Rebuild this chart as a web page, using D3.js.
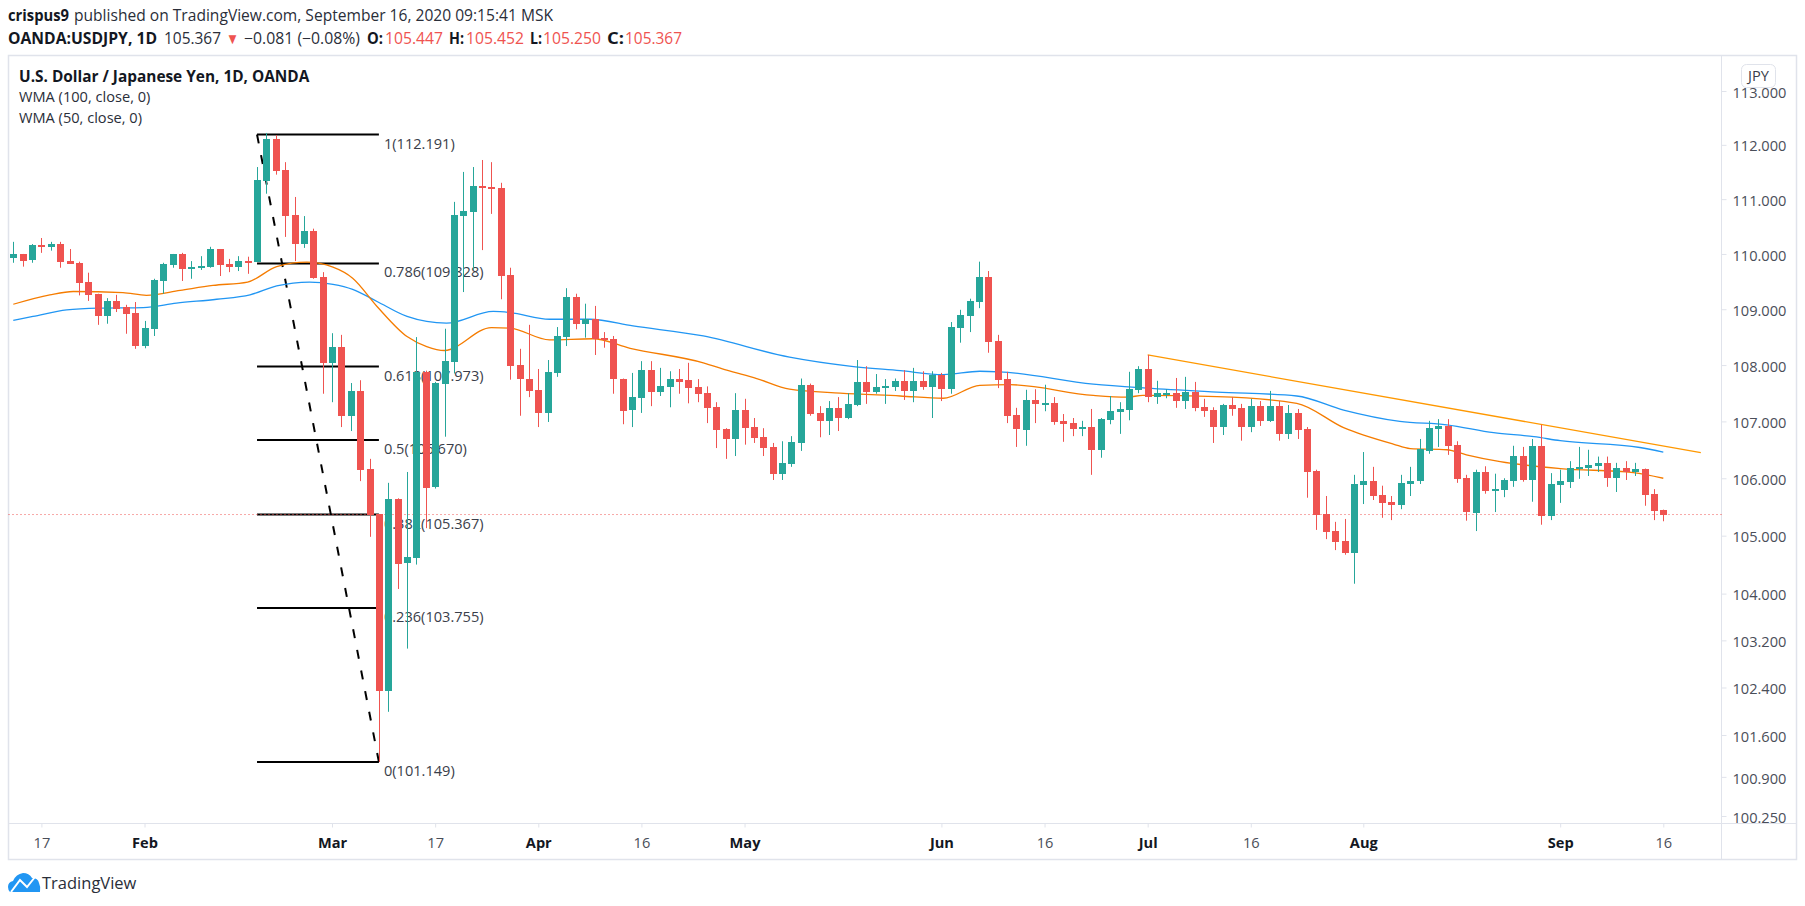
<!DOCTYPE html>
<html>
<head>
<meta charset="utf-8">
<script src="https://d3js.org/d3.v7.min.js"></script>
<style>
    html, body { margin: 0; padding: 0; background: #fff; }
    text { font-family: "Open Sans", sans-serif; }
</style>
</head>
<body>
<svg id="chart" width="1805" height="906"></svg>
<script>
// daily candles
const opens = [
    109.93,110.00,109.88,110.16,110.13,110.18,109.87,109.84,109.49,109.28,
    108.88,109.15,109.04,108.93,108.34,108.64,109.51,109.80,110.00,109.73,
    109.75,109.76,110.09,109.82,109.76,109.87,109.86,111.33,112.11,111.54,
    110.71,110.18,110.42,109.58,108.04,108.32,107.10,107.54,106.16,105.37,
    102.34,105.64,104.52,104.62,107.88,105.84,107.66,108.06,110.69,110.77,
    111.24,111.22,111.20,109.62,108.00,107.76,107.55,107.15,107.86,108.50,
    109.22,108.73,108.82,108.49,108.47,107.76,107.20,107.41,107.91,107.52,
    107.61,107.76,107.74,107.61,107.50,107.25,106.87,106.69,107.20,106.90,
    106.73,106.55,106.08,106.25,106.62,107.64,107.15,107.01,107.24,107.06,
    107.29,107.70,107.52,107.59,107.61,107.72,107.54,107.72,107.61,107.82,
    107.57,108.66,108.88,109.13,109.58,108.43,107.75,107.11,106.85,107.38,
    107.31,107.33,107.01,106.97,106.87,106.90,106.50,107.02,107.17,107.20,
    107.56,107.93,107.43,107.49,107.50,107.36,107.52,107.25,107.20,106.90,
    107.29,107.24,106.90,107.27,107.01,107.27,106.78,107.15,106.87,106.13,
    105.38,105.08,104.91,104.70,105.88,105.95,105.71,105.59,105.53,105.90,
    105.94,106.48,106.87,106.92,106.58,106.00,105.40,106.11,105.78,105.80,
    105.95,106.39,105.97,106.57,105.34,105.88,105.94,106.16,106.18,106.22,
    106.27,106.00,106.18,106.11,106.16,105.73,105.447];
const closes = [
    110.00,109.88,110.16,110.13,110.18,109.86,109.82,109.48,109.26,108.88,
    109.15,109.00,108.91,108.34,108.66,109.53,109.82,110.00,109.73,109.76,
    109.78,110.09,109.80,109.76,109.87,109.86,111.35,112.11,111.52,110.69,
    110.18,110.42,109.57,108.04,108.32,107.10,107.54,106.15,105.35,102.34,
    105.64,104.52,104.63,107.88,105.84,107.68,108.07,110.71,110.78,111.24,
    111.20,111.19,109.60,107.98,107.75,107.54,107.15,107.88,108.52,109.22,
    108.73,108.82,108.46,108.45,107.75,107.20,107.43,107.91,107.52,107.62,
    107.76,107.71,107.59,107.49,107.24,106.85,106.69,107.20,106.88,106.71,
    106.53,106.08,106.27,106.64,107.64,107.13,107.01,107.24,107.06,107.31,
    107.70,107.52,107.61,107.62,107.71,107.54,107.72,107.61,107.82,107.57,
    108.68,108.90,109.15,109.58,108.41,107.73,107.10,106.86,107.38,107.31,
    107.33,106.99,106.95,106.87,106.90,106.50,107.04,107.18,107.22,107.57,
    107.93,107.43,107.50,107.50,107.36,107.52,107.24,107.18,106.90,107.29,
    107.22,106.90,107.27,107.01,107.27,106.78,107.15,106.85,106.11,105.36,
    105.06,104.89,104.70,105.90,105.95,105.69,105.57,105.53,105.92,105.95,
    106.51,106.88,106.92,106.57,105.99,105.40,106.11,105.78,105.81,105.97,
    106.39,105.97,106.57,105.34,105.90,105.95,106.18,106.20,106.23,106.27,
    106.00,106.18,106.11,106.16,105.71,105.43,105.367];
const highs = [
    110.22,110.00,110.18,110.29,110.22,110.22,110.09,109.86,109.66,109.28,
    109.20,109.26,109.08,109.13,108.79,109.55,109.84,110.00,110.02,109.87,
    109.96,110.13,110.09,109.91,109.96,109.95,111.59,112.22,112.18,111.68,
    111.04,110.69,110.46,109.67,108.57,108.54,107.68,107.73,106.34,105.37,
    105.92,105.65,106.11,108.50,107.90,107.70,108.65,110.95,111.50,111.59,
    111.72,111.68,111.30,109.75,108.29,108.72,107.93,108.09,108.68,109.38,
    109.28,109.10,109.06,108.59,108.52,107.76,107.86,108.07,108.07,107.95,
    107.89,107.93,108.04,107.75,107.62,107.34,106.88,107.50,107.40,107.06,
    106.88,106.62,106.65,106.74,107.76,107.67,107.27,107.36,107.43,107.50,
    108.09,107.98,107.84,107.75,107.76,107.91,107.95,107.89,107.89,107.86,
    108.77,108.99,109.19,109.86,109.69,108.54,107.88,107.24,107.56,107.57,
    107.65,107.43,107.13,107.06,107.01,107.22,107.06,107.45,107.34,107.88,
    107.98,108.18,107.72,107.57,107.77,107.79,107.70,107.40,107.25,107.31,
    107.43,107.31,107.40,107.36,107.54,107.36,107.29,107.22,106.90,106.15,
    105.69,105.24,105.29,106.06,106.46,106.20,105.87,105.69,106.06,106.20,
    106.69,107.01,107.04,107.04,106.65,106.06,106.15,106.21,106.08,106.00,
    106.57,106.55,106.69,106.94,106.09,106.15,106.30,106.55,106.50,106.38,
    106.38,106.27,106.30,106.27,106.17,105.81,105.452];
const lows = [
    109.84,109.77,109.84,110.02,110.06,109.75,109.82,109.25,109.15,108.72,
    108.74,108.95,108.56,108.29,108.30,108.52,109.28,109.75,109.51,109.55,
    109.71,109.75,109.60,109.67,109.69,109.64,109.86,111.10,111.45,110.31,
    109.87,110.11,109.55,107.49,107.34,106.90,106.83,105.95,104.98,101.15,
    101.99,104.08,103.06,104.50,105.13,105.82,106.73,107.85,109.31,109.71,
    110.07,110.73,109.18,107.74,107.10,107.43,106.90,106.99,107.79,108.34,
    108.64,108.49,108.18,108.31,107.49,106.95,106.90,107.15,107.27,107.45,
    107.25,107.49,107.32,107.34,106.97,106.53,106.34,106.39,106.59,106.62,
    106.39,105.97,105.97,106.20,106.48,107.10,106.72,106.76,106.83,107.04,
    107.27,107.31,107.49,107.31,107.54,107.38,107.34,107.56,107.06,107.36,
    107.49,108.40,108.59,109.02,108.22,107.59,106.97,106.55,106.57,106.97,
    107.18,106.94,106.64,106.74,106.74,106.06,106.36,106.95,106.78,107.02,
    107.50,107.34,107.31,107.41,107.24,107.22,107.18,107.08,106.62,106.76,
    107.10,106.66,106.81,106.92,106.99,106.66,106.69,106.69,105.66,105.10,
    104.94,104.75,104.67,104.17,105.55,105.62,105.31,105.27,105.46,105.69,
    105.90,106.43,106.55,106.41,105.92,105.26,105.08,105.73,105.41,105.67,
    105.85,105.94,105.59,105.19,105.27,105.57,105.83,105.99,106.04,106.11,
    105.85,105.76,105.97,106.04,105.52,105.27,105.250];

// WMA lines, read at the bars where they bend
const wma100Bars = [0,2.1,5.7,9.25,13.85,17.4,21.7,25.25,28.1,31.6,34.1,36.2,38.8,42,44.1,46.2,51.2,53,57.2,61.5,66.1,73.6,82.8,89.2,94.6,99.2,103.1,105.2,115.2,120.9,128.4,136.9,141.9,147.9,152.9,157.9,162.2,165,173.5,176];
const wma100Vals = [108.80,108.87,108.99,109.02,109.03,109.11,109.18,109.26,109.42,109.49,109.45,109.36,109.14,108.87,108.78,108.75,108.96,108.94,108.82,108.82,108.70,108.52,108.14,107.98,107.90,107.83,107.89,107.88,107.66,107.59,107.52,107.45,107.20,107.00,106.94,106.80,106.73,106.66,106.54,106.46];
const wma50Bars = [0,3.9,6.4,11.7,14.2,17.8,21.3,25,28.1,31.3,34.1,36.2,38.8,42,44.1,46,51,53,57.2,61.8,65.8,73.6,76.1,79.3,82.8,88.2,94.6,99.2,103.1,106.3,115.2,118.8,120.5,128.4,136.9,141.9,147.2,149,152.9,155,158.6,165,172.8,176];
const wma50Vals = [109.09,109.26,109.32,109.30,109.25,109.34,109.43,109.49,109.77,109.85,109.76,109.56,109.05,108.51,108.33,108.26,108.67,108.66,108.45,108.47,108.30,108.04,107.91,107.76,107.57,107.50,107.45,107.41,107.64,107.65,107.46,107.43,107.46,107.44,107.32,106.89,106.60,106.52,106.50,106.41,106.29,106.17,106.10,106.00];

// trend line and fib retracement
const trendBars = [121, 180];
const trendVals = [108.18, 106.45];
const fibRatios = ["1", "0.786", "0.618", "0.5", "0.382", "0.236", "0"];
const fibPrices = [112.191, 109.828, 107.973, 106.670, 105.367, 103.755, 101.149];
const fibBars = [26, 39];

const priceTicks = [113, 112, 111, 110, 109, 108, 107, 106, 105, 104, 103.2, 102.4, 101.6, 100.9, 100.25];
const dateTickBars = [3, 14, 34, 45, 56, 67, 78, 99, 110, 121, 132, 144, 165, 176];
const dateTickLabels = ["17", "Feb", "Mar", "17", "Apr", "16", "May", "Jun", "16", "Jul", "16", "Aug", "Sep", "16"];
const lastPrice = 105.367;

const GREEN = "#26a69a", RED = "#ef5350", BLUE = "#2196f3", ORANGE = "#f57c00";
const FRAME = "#e0e3eb", TEXT = "#4a4e59", DARK = "#131722";

const x = d3.scaleLinear().domain([3, 176]).range([41.4, 1663.3]);
const y = d3.scaleLog().domain([113, 100.25]).range([91, 816]);

const svg = d3.select("#chart");
const bars = d3.range(opens.length);

/* Frame */
const frameL = 8.5, frameR = 1796.5, frameT = 55.5, frameB = 859.5, axisX = 1721.5, axisY = 823.5;
svg.append("rect").attr("x", frameL).attr("y", frameT).attr("width", frameR - frameL).attr("height", frameB - frameT)
    .attr("fill", "none").attr("stroke", FRAME).attr("stroke-width", 1.5);
svg.append("line").attr("x1", axisX).attr("x2", axisX).attr("y1", frameT).attr("y2", frameB).attr("stroke", FRAME);
svg.append("line").attr("x1", frameL).attr("x2", frameR).attr("y1", axisY).attr("y2", axisY).attr("stroke", FRAME);

/* Header: each piece is pinned to its own start and width */
const head = svg.append("g").attr("font-size", 15.5);
const headerParts = [
    ["crispus9", 8, 61, 21, 700, DARK],
    ["published on TradingView.com, September 16, 2020 09:15:41 MSK", 74, 479, 21, 400, "#2a2e39"],
    ["OANDA:USDJPY, 1D", 8, 149, 44, 700, DARK],
    ["105.367", 164, 57, 44, 400, "#2a2e39"],
    ["▼", 226, 13, 44, 400, RED],
    ["−0.081 (−0.08%)", 244, 116, 44, 400, "#2a2e39"],
    ["O:", 367, 16, 44, 700, DARK],
    ["105.447", 385, 58, 44, 400, RED],
    ["H:", 449, 15, 44, 700, DARK],
    ["105.452", 466, 58, 44, 400, RED],
    ["L:", 530, 12, 44, 700, DARK],
    ["105.250", 543, 58, 44, 400, RED],
    ["C:", 607, 17, 44, 700, DARK],
    ["105.367", 625, 57, 44, 400, RED]
];
headerParts.forEach(p => {
    head.append("text").attr("x", p[1]).attr("y", p[3])
        .attr("textLength", p[2]).attr("lengthAdjust", "spacingAndGlyphs")
        .attr("font-weight", p[4]).attr("fill", p[5]).text(p[0]);
});

/* Legend */
const legend = svg.append("g").attr("font-size", 14.6).attr("fill", "#2a2e39");
legend.append("text").attr("x", 19).attr("y", 82).attr("font-size", 15.4).attr("fill", DARK).attr("font-weight", 700).text("U.S. Dollar / Japanese Yen, 1D, OANDA");
legend.append("text").attr("x", 19).attr("y", 102).text("WMA (100, close, 0)");
legend.append("text").attr("x", 19).attr("y", 123).text("WMA (50, close, 0)");

/* Fib retracement, behind the candles */
const fib = svg.append("g");
fib.selectAll("line.level").data(fibPrices).enter().append("line")
    .attr("class", "level")
    .attr("x1", x(fibBars[0])).attr("x2", x(fibBars[1]))
    .attr("y1", d => y(d)).attr("y2", d => y(d))
    .attr("stroke", "#000").attr("stroke-width", 2);
fib.selectAll("text").data(fibPrices).enter().append("text")
    .attr("x", x(fibBars[1]) + 5)
    .attr("y", d => y(d) + 14)
    .attr("font-size", 14.6)
    .attr("fill", "#3a3e4a")
    .text((d, i) => fibRatios[i] + "(" + d3.format(".3f")(d) + ")");
fib.append("line")
    .attr("x1", x(fibBars[0])).attr("y1", y(fibPrices[0]))
    .attr("x2", x(fibBars[1])).attr("y2", y(fibPrices[6]))
    .attr("stroke", "#000").attr("stroke-width", 2).attr("stroke-dasharray", "9 12");

/* Last price line */
svg.append("line")
    .attr("x1", frameL).attr("x2", axisX)
    .attr("y1", y(lastPrice)).attr("y2", y(lastPrice))
    .attr("stroke", RED).attr("stroke-dasharray", "1 3");

/* WMA lines and trend line */
const lineGen = d3.line().x(d => x(d[0])).y(d => y(d[1])).curve(d3.curveMonotoneX);
svg.append("path").attr("d", lineGen(d3.zip(wma100Bars, wma100Vals)))
    .attr("fill", "none").attr("stroke", BLUE).attr("stroke-width", 1.3);
svg.append("path").attr("d", lineGen(d3.zip(wma50Bars, wma50Vals)))
    .attr("fill", "none").attr("stroke", ORANGE).attr("stroke-width", 1.3);
svg.append("path").attr("d", lineGen(d3.zip(trendBars, trendVals)))
    .attr("fill", "none").attr("stroke", "#ff9800").attr("stroke-width", 1.3);

/* Candles */
const candles = svg.append("g").selectAll("g").data(bars).enter().append("g")
    .attr("fill", i => closes[i] >= opens[i] ? GREEN : RED);
candles.append("rect")
    .attr("x", i => Math.round(x(i)) )
    .attr("width", 1)
    .attr("y", i => y(highs[i]))
    .attr("height", i => y(lows[i]) - y(highs[i]));
candles.append("rect")
    .attr("x", i => Math.round(x(i)) - 3)
    .attr("width", 7)
    .attr("y", i => Math.round(y(Math.max(opens[i], closes[i]))))
    .attr("height", i => Math.max(2, Math.round(Math.abs(y(opens[i]) - y(closes[i])))));

/* Price axis */
const yAxis = d3.axisRight(y).tickValues(priceTicks).tickFormat(d3.format(".3f")).tickSize(5).tickPadding(6);
const yG = svg.append("g").attr("transform", "translate(" + axisX + ",0)").call(yAxis);
yG.select(".domain").remove();
yG.selectAll("line").attr("stroke", FRAME);
yG.selectAll("text").attr("font-size", 14.6).attr("fill", TEXT).attr("dy", "0.42em").style("font-family", '"Open Sans", sans-serif');

/* Time axis */
const xAxis = d3.axisBottom(x).tickValues(dateTickBars).tickFormat((d, i) => dateTickLabels[i]).tickSize(4).tickPadding(10);
const xG = svg.append("g").attr("transform", "translate(0," + axisY + ")").call(xAxis);
xG.select(".domain").remove();
xG.selectAll("line").attr("stroke", FRAME);
xG.selectAll("text").attr("font-size", 14.6).attr("fill", (d, i) => /\d/.test(dateTickLabels[i]) ? TEXT : DARK)
    .attr("font-weight", (d, i) => /\d/.test(dateTickLabels[i]) ? 400 : 700)
    .style("font-family", '"Open Sans", sans-serif');

/* Currency badge, it sits on top of the 113.000 label like the original */
svg.append("rect").attr("x", 1741.5).attr("y", 64.5).attr("width", 34).attr("height", 23).attr("rx", 5)
    .attr("fill", "#fff").attr("fill-opacity", 0.9).attr("stroke", FRAME);
svg.append("text").attr("x", 1758.5).attr("y", 81).attr("text-anchor", "middle")
    .attr("font-size", 14.6).attr("fill", "#3a3e4a").text("JPY");

/* Logo */
const logo = svg.append("g").attr("transform", "translate(8,873)");
logo.append("path").attr("fill", BLUE)
    .attr("d", "M0 14 Q0 9 5 8 Q8 1 15 0 Q21 0 24 5 Q30 5 31 10 Q33 14 32 19 L2 19 Q0 17 0 14Z");
logo.append("path").attr("fill", "none").attr("stroke", "#fff").attr("stroke-width", 2)
    .attr("d", "M3 19 L12 7 L19 14 L27 4");
svg.append("text").attr("x", 42).attr("y", 889).attr("font-size", 16.5).attr("fill", "#2a2e39").text("TradingView");
</script>
</body>
</html>
